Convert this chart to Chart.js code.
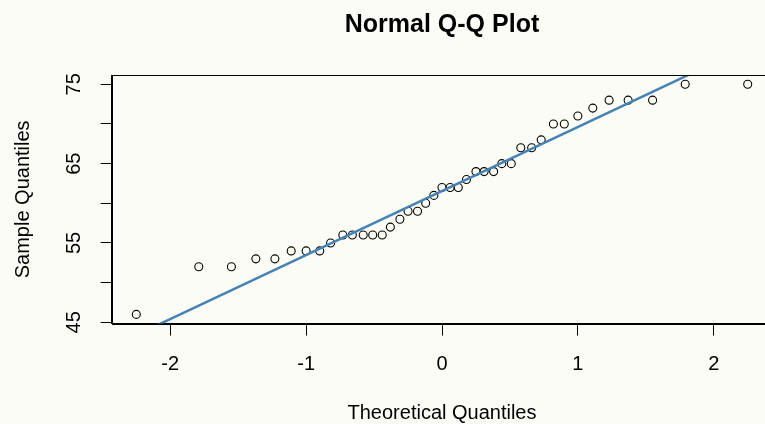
<!DOCTYPE html>
<html>
<head>
<meta charset="utf-8">
<title>Normal Q-Q Plot</title>
<script src="https://cdn.jsdelivr.net/npm/chart.js@4.4.1/dist/chart.umd.min.js"></script>
<style>
  html, body { margin: 0; padding: 0; overflow: hidden; background: #fcfcf7; }
  #wrap { position: relative; width: 800px; height: 424px; }
</style>
</head>
<body>
<div id="wrap"><canvas id="qqPlot"></canvas></div>
<script>
// theoretical normal quantiles and the sorted sample (n = 41)
const theoretical = [-2.25, -1.79, -1.55, -1.37, -1.23, -1.11, -1.00, -0.90, -0.82, -0.73,
  -0.66, -0.58, -0.51, -0.44, -0.38, -0.31, -0.25, -0.18, -0.12, -0.06, 0,
  0.06, 0.12, 0.18, 0.25, 0.31, 0.38, 0.44, 0.51, 0.58, 0.66, 0.73, 0.82,
  0.90, 1.00, 1.11, 1.23, 1.37, 1.55, 1.79, 2.25];
const sample = [46, 52, 52, 53, 53, 54, 54, 54, 55, 56, 56, 56, 56, 56, 57, 58, 59, 59, 60, 61,
  62, 62, 62, 63, 64, 64, 64, 65, 65, 67, 67, 68, 70, 70, 71, 72, 73, 73, 73, 75, 75];

// qqline through the quartiles, end points past both sides of the box
const lineX = [-2.6, 2.6];
const lineY = [40.57, 82.53];

const xTicks = [-2, -1, 0, 1, 2];
const yTicks = [45, 50, 55, 60, 65, 70, 75];
const yLabels = [45, 55, 65, 75];
const xRange = [-2.431, 2.431];
const yRange = [44.84, 76.16];

const FONT = "'Liberation Sans', Arial, sans-serif";
Chart.defaults.font.family = FONT;
Chart.defaults.color = '#000';

// R style frame: paper colour, full box and rotated y labels
const rFrame = {
  id: 'rFrame',
  beforeDraw(chart) {
    const ctx = chart.ctx;
    ctx.save();
    ctx.fillStyle = '#fcfcf7';
    ctx.fillRect(0, 0, chart.width, chart.height);
    ctx.restore();
  },
  afterDraw(chart) {
    const {ctx, chartArea: a, scales} = chart;
    ctx.save();
    ctx.strokeStyle = '#000';
    ctx.lineWidth = 1;
    const l = Math.round(a.left) + 0.5, t = Math.round(a.top) + 0.5;
    const r = Math.round(a.right) + 0.5, b = Math.round(a.bottom) + 0.5;
    ctx.strokeRect(l, t, r - l, b - t);

    ctx.fillStyle = '#000';
    ctx.font = '20px ' + FONT;
    ctx.textAlign = 'center';
    ctx.textBaseline = 'alphabetic';
    yLabels.forEach(v => {
      const y = scales.y.getPixelForValue(v);
      ctx.save();
      ctx.translate(80, y);
      ctx.rotate(-Math.PI / 2);
      ctx.fillText(String(v), 0, 0);
      ctx.restore();
    });
    ctx.restore();
  }
};

new Chart(document.getElementById('qqPlot'), {
  type: 'scatter',
  data: {
    datasets: [
      {
        type: 'line',
        data: lineX.map((x, i) => ({x: x, y: lineY[i]})),
        borderColor: '#4682b4',
        borderWidth: 2.5,
        pointRadius: 0,
        fill: false
      },
      {
        data: theoretical.map((x, i) => ({x: x, y: sample[i]})),
        pointStyle: 'circle',
        pointRadius: 4,
        borderWidth: 1.1,
        borderColor: '#000',
        backgroundColor: 'rgba(0,0,0,0)'
      }
    ]
  },
  options: {
    responsive: true,
    maintainAspectRatio: false,
    animation: false,
    events: [],
    layout: {
      autoPadding: false,
      padding: {left: 0, right: 27.7, top: 0, bottom: 0}
    },
    plugins: {
      legend: {display: false},
      tooltip: {enabled: false},
      title: {
        display: true,
        text: 'Normal Q-Q Plot',
        fullSize: false,
        color: '#000',
        font: {size: 25, weight: 'bold'},
        padding: {top: 10, bottom: 35.1}
      }
    },
    scales: {
      x: {
        type: 'linear',
        min: xRange[0],
        max: xRange[1],
        afterBuildTicks: s => { s.ticks = xTicks.map(v => ({value: v})); },
        afterFit: s => { s.height = 100.4; },
        grid: {drawOnChartArea: false, drawTicks: true, tickLength: 12, color: '#000'},
        border: {display: true, color: '#000', width: 1},
        ticks: {
          font: {size: 20},
          padding: 17,
          maxRotation: 0,
          callback: v => String(v)
        },
        title: {
          display: true,
          text: 'Theoretical Quantiles',
          font: {size: 20, lineHeight: 1},
          padding: {top: 0, bottom: 1}
        }
      },
      y: {
        type: 'linear',
        min: yRange[0],
        max: yRange[1],
        afterBuildTicks: s => { s.ticks = yTicks.map(v => ({value: v})); },
        afterFit: s => { s.width = 111.7; },
        grid: {drawOnChartArea: false, drawTicks: true, tickLength: 11, color: '#000'},
        border: {display: true, color: '#000', width: 1},
        ticks: {display: false},
        title: {
          display: true,
          text: 'Sample Quantiles',
          font: {size: 20, lineHeight: 1},
          padding: {top: 13.5, bottom: 0}
        }
      }
    }
  },
  plugins: [rFrame]
});
</script>
</body>
</html>
